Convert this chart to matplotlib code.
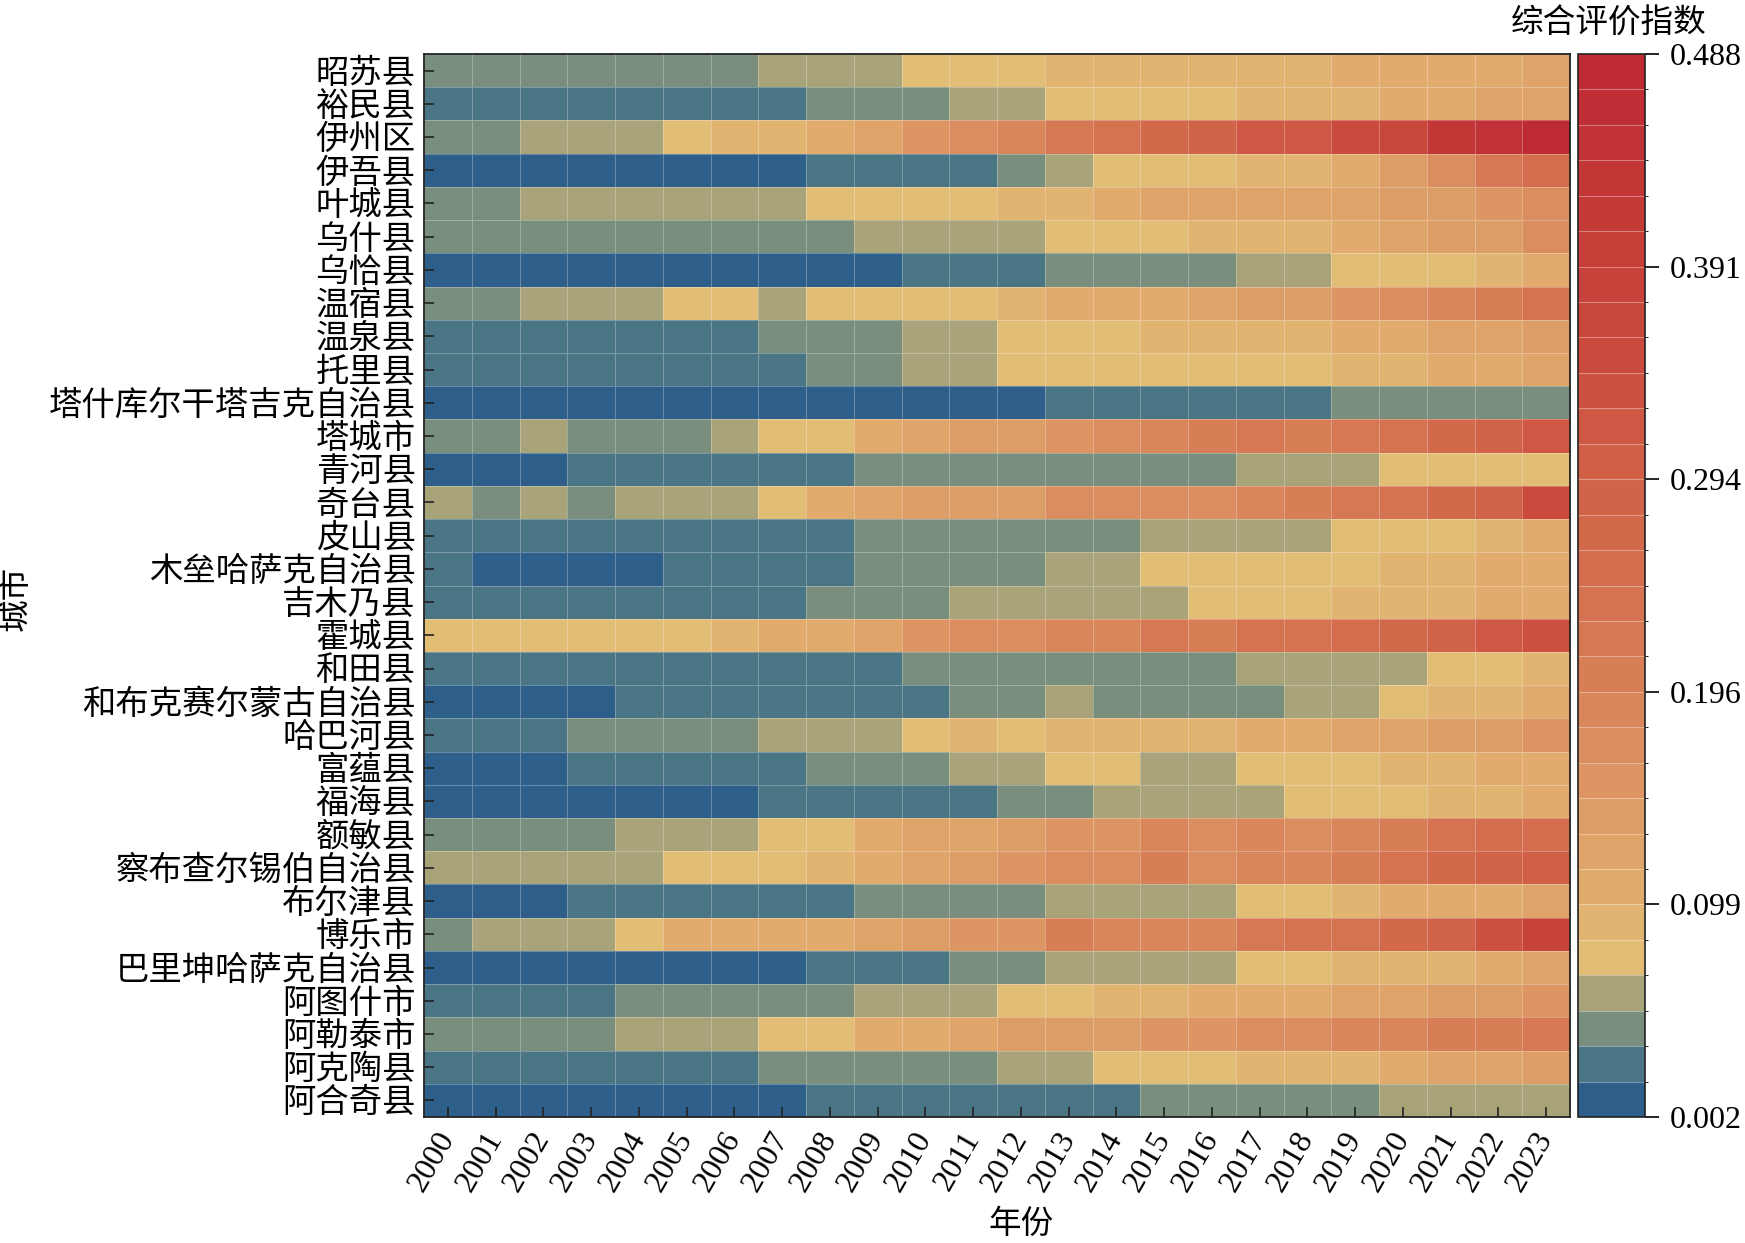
import numpy as np
import matplotlib
matplotlib.use('Agg')
import matplotlib.pyplot as plt
from matplotlib.colors import ListedColormap, BoundaryNorm, LinearSegmentedColormap

plt.rcParams['font.family'] = ['Liberation Serif', 'Noto Sans CJK SC']
plt.rcParams['axes.unicode_minus'] = False

years = [str(y) for y in range(2000, 2024)]

counties = ['昭苏县', '裕民县', '伊州区', '伊吾县', '叶城县', '乌什县', '乌恰县', '温宿县',
            '温泉县', '托里县', '塔什库尔干塔吉克自治县', '塔城市', '青河县', '奇台县',
            '皮山县', '木垒哈萨克自治县', '吉木乃县', '霍城县', '和田县',
            '和布克赛尔蒙古自治县', '哈巴河县', '富蕴县', '福海县', '额敏县',
            '察布查尔锡伯自治县', '布尔津县', '博乐市', '巴里坤哈萨克自治县',
            '阿图什市', '阿勒泰市', '阿克陶县', '阿合奇县']

# composite index, one row per county, 2000..2023
index_values = [
    [0.043, 0.043, 0.043, 0.043, 0.043, 0.043, 0.043, 0.059, 0.059, 0.059, 0.075, 0.075, 0.075, 0.091, 0.091, 0.091, 0.091, 0.091, 0.091, 0.107, 0.107, 0.107, 0.107, 0.124],
    [0.026, 0.026, 0.026, 0.026, 0.026, 0.026, 0.026, 0.026, 0.043, 0.043, 0.043, 0.059, 0.059, 0.075, 0.075, 0.075, 0.075, 0.091, 0.091, 0.091, 0.107, 0.107, 0.124, 0.124],
    [0.043, 0.043, 0.059, 0.059, 0.059, 0.075, 0.091, 0.091, 0.107, 0.124, 0.156, 0.172, 0.188, 0.221, 0.237, 0.269, 0.286, 0.318, 0.318, 0.350, 0.367, 0.431, 0.448, 0.487],
    [0.010, 0.010, 0.010, 0.010, 0.010, 0.010, 0.010, 0.010, 0.026, 0.026, 0.026, 0.026, 0.043, 0.059, 0.075, 0.075, 0.075, 0.091, 0.091, 0.107, 0.140, 0.172, 0.221, 0.253],
    [0.043, 0.043, 0.059, 0.059, 0.059, 0.059, 0.059, 0.059, 0.075, 0.075, 0.075, 0.075, 0.091, 0.091, 0.107, 0.124, 0.124, 0.124, 0.124, 0.124, 0.140, 0.140, 0.156, 0.172],
    [0.043, 0.043, 0.043, 0.043, 0.043, 0.043, 0.043, 0.043, 0.043, 0.059, 0.059, 0.059, 0.059, 0.075, 0.075, 0.075, 0.091, 0.091, 0.091, 0.107, 0.124, 0.140, 0.140, 0.172],
    [0.010, 0.010, 0.010, 0.010, 0.010, 0.010, 0.010, 0.010, 0.010, 0.010, 0.026, 0.026, 0.026, 0.043, 0.043, 0.043, 0.043, 0.059, 0.059, 0.075, 0.075, 0.075, 0.091, 0.107],
    [0.043, 0.043, 0.059, 0.059, 0.059, 0.075, 0.075, 0.059, 0.075, 0.075, 0.075, 0.075, 0.091, 0.107, 0.107, 0.107, 0.124, 0.140, 0.140, 0.156, 0.172, 0.188, 0.205, 0.237],
    [0.026, 0.026, 0.026, 0.026, 0.026, 0.026, 0.026, 0.043, 0.043, 0.043, 0.059, 0.059, 0.075, 0.075, 0.075, 0.091, 0.091, 0.091, 0.091, 0.107, 0.107, 0.124, 0.124, 0.140],
    [0.026, 0.026, 0.026, 0.026, 0.026, 0.026, 0.026, 0.026, 0.043, 0.043, 0.059, 0.059, 0.075, 0.075, 0.075, 0.075, 0.075, 0.075, 0.075, 0.091, 0.091, 0.107, 0.107, 0.124],
    [0.010, 0.010, 0.010, 0.010, 0.010, 0.010, 0.010, 0.010, 0.010, 0.010, 0.010, 0.010, 0.010, 0.026, 0.026, 0.026, 0.026, 0.026, 0.026, 0.043, 0.043, 0.043, 0.043, 0.043],
    [0.043, 0.043, 0.059, 0.043, 0.043, 0.043, 0.059, 0.075, 0.075, 0.107, 0.124, 0.140, 0.140, 0.156, 0.172, 0.188, 0.205, 0.221, 0.205, 0.221, 0.237, 0.269, 0.286, 0.318],
    [0.010, 0.010, 0.010, 0.026, 0.026, 0.026, 0.026, 0.026, 0.026, 0.043, 0.043, 0.043, 0.043, 0.043, 0.043, 0.043, 0.043, 0.059, 0.059, 0.059, 0.075, 0.075, 0.075, 0.075],
    [0.059, 0.043, 0.059, 0.043, 0.059, 0.059, 0.059, 0.075, 0.107, 0.124, 0.140, 0.140, 0.140, 0.172, 0.172, 0.172, 0.172, 0.188, 0.205, 0.221, 0.237, 0.269, 0.286, 0.350],
    [0.026, 0.026, 0.026, 0.026, 0.026, 0.026, 0.026, 0.026, 0.026, 0.043, 0.043, 0.043, 0.043, 0.043, 0.043, 0.059, 0.059, 0.059, 0.059, 0.075, 0.075, 0.075, 0.091, 0.107],
    [0.026, 0.010, 0.010, 0.010, 0.010, 0.026, 0.026, 0.026, 0.026, 0.043, 0.043, 0.043, 0.043, 0.059, 0.059, 0.075, 0.075, 0.075, 0.075, 0.075, 0.091, 0.091, 0.107, 0.107],
    [0.026, 0.026, 0.026, 0.026, 0.026, 0.026, 0.026, 0.026, 0.043, 0.043, 0.043, 0.059, 0.059, 0.059, 0.059, 0.059, 0.075, 0.075, 0.075, 0.091, 0.091, 0.091, 0.107, 0.107],
    [0.075, 0.075, 0.075, 0.075, 0.075, 0.075, 0.091, 0.107, 0.107, 0.124, 0.156, 0.172, 0.172, 0.188, 0.188, 0.221, 0.205, 0.237, 0.237, 0.253, 0.269, 0.286, 0.318, 0.334],
    [0.026, 0.026, 0.026, 0.026, 0.026, 0.026, 0.026, 0.026, 0.026, 0.026, 0.043, 0.043, 0.043, 0.043, 0.043, 0.043, 0.043, 0.059, 0.059, 0.059, 0.059, 0.075, 0.075, 0.091],
    [0.010, 0.010, 0.010, 0.010, 0.026, 0.026, 0.026, 0.026, 0.026, 0.026, 0.026, 0.043, 0.043, 0.059, 0.043, 0.043, 0.043, 0.043, 0.059, 0.059, 0.075, 0.091, 0.091, 0.107],
    [0.026, 0.026, 0.026, 0.043, 0.043, 0.043, 0.043, 0.059, 0.059, 0.059, 0.075, 0.091, 0.075, 0.091, 0.091, 0.091, 0.091, 0.107, 0.107, 0.124, 0.124, 0.140, 0.140, 0.156],
    [0.010, 0.010, 0.010, 0.026, 0.026, 0.026, 0.026, 0.026, 0.043, 0.043, 0.043, 0.059, 0.059, 0.075, 0.075, 0.059, 0.059, 0.075, 0.075, 0.075, 0.091, 0.091, 0.107, 0.107],
    [0.010, 0.010, 0.010, 0.010, 0.010, 0.010, 0.010, 0.026, 0.026, 0.026, 0.026, 0.026, 0.043, 0.043, 0.059, 0.059, 0.059, 0.059, 0.075, 0.075, 0.075, 0.091, 0.091, 0.107],
    [0.043, 0.043, 0.043, 0.043, 0.059, 0.059, 0.059, 0.075, 0.075, 0.107, 0.124, 0.124, 0.140, 0.156, 0.156, 0.188, 0.172, 0.188, 0.172, 0.188, 0.205, 0.237, 0.253, 0.253],
    [0.059, 0.059, 0.059, 0.059, 0.059, 0.075, 0.075, 0.075, 0.091, 0.107, 0.124, 0.140, 0.156, 0.172, 0.172, 0.205, 0.172, 0.188, 0.188, 0.205, 0.237, 0.269, 0.286, 0.302],
    [0.010, 0.010, 0.010, 0.026, 0.026, 0.026, 0.026, 0.026, 0.026, 0.043, 0.043, 0.043, 0.043, 0.059, 0.059, 0.059, 0.059, 0.075, 0.075, 0.091, 0.107, 0.107, 0.107, 0.124],
    [0.043, 0.059, 0.059, 0.059, 0.075, 0.107, 0.107, 0.107, 0.107, 0.124, 0.140, 0.156, 0.156, 0.205, 0.188, 0.188, 0.188, 0.221, 0.237, 0.237, 0.269, 0.286, 0.334, 0.383],
    [0.010, 0.010, 0.010, 0.010, 0.010, 0.010, 0.010, 0.010, 0.026, 0.026, 0.026, 0.043, 0.043, 0.059, 0.059, 0.059, 0.059, 0.075, 0.075, 0.091, 0.091, 0.091, 0.107, 0.124],
    [0.026, 0.026, 0.026, 0.026, 0.043, 0.043, 0.043, 0.043, 0.043, 0.059, 0.059, 0.059, 0.075, 0.075, 0.091, 0.091, 0.107, 0.107, 0.107, 0.124, 0.124, 0.140, 0.140, 0.156],
    [0.043, 0.043, 0.043, 0.043, 0.059, 0.059, 0.059, 0.075, 0.075, 0.107, 0.107, 0.124, 0.140, 0.140, 0.140, 0.156, 0.156, 0.172, 0.172, 0.188, 0.188, 0.205, 0.205, 0.221],
    [0.026, 0.026, 0.026, 0.026, 0.026, 0.026, 0.026, 0.043, 0.043, 0.043, 0.043, 0.043, 0.059, 0.059, 0.075, 0.075, 0.075, 0.091, 0.091, 0.091, 0.107, 0.124, 0.124, 0.140],
    [0.010, 0.010, 0.010, 0.010, 0.010, 0.010, 0.010, 0.010, 0.026, 0.026, 0.026, 0.026, 0.026, 0.026, 0.026, 0.043, 0.043, 0.043, 0.043, 0.043, 0.059, 0.059, 0.059, 0.059],
]

vmin, vmax = 0.002, 0.488
n_levels = 30

# colour scale: four cool steps, then yellow -> orange -> red
cool = ['#2e5f8b', '#4a7585', '#7a8e7e', '#a9a37a']
warm_anchor_lv = [4, 6, 9, 12, 15, 18, 21, 24, 29]
warm_anchor_col = ['#e2bd76', '#e0ab6c', '#dc9563', '#d77e56', '#d46d4d',
                   '#d05f46', '#ca4a3d', '#c63e38', '#be2a34']
warm = LinearSegmentedColormap.from_list(
    'warm', [((lv - 4) / 25, c) for lv, c in zip(warm_anchor_lv, warm_anchor_col)])
colors = cool + [warm(i / 25) for i in range(26)]
cmap = ListedColormap(colors)
bounds = np.linspace(vmin, vmax, n_levels + 1)
norm = BoundaryNorm(bounds, cmap.N, clip=True)

data = np.array(index_values)

W, H = 1745, 1243
fig = plt.figure(figsize=(W / 100, H / 100), dpi=100)
ax = fig.add_axes([424 / W, 1 - 1117 / H, 1146 / W, 1063 / H])
cax = fig.add_axes([1578 / W, 1 - 1117 / H, 67 / W, 1063 / H])

mesh = ax.pcolormesh(np.arange(len(years) + 1), np.arange(len(counties) + 1), data,
                     cmap=cmap, norm=norm, edgecolors=(1, 1, 1, 0.28), linewidth=0.6)
ax.set_xlim(0, len(years))
ax.set_ylim(len(counties), 0)

ax.set_xticks(np.arange(len(years)) + 0.5)
ax.set_xticklabels(years, rotation=60, ha='right', va='center',
                   rotation_mode='anchor', fontsize=23)
ax.set_yticks(np.arange(len(counties)) + 0.5)
ax.set_yticklabels(counties, fontsize=24, fontweight='light')
ax.tick_params(axis='both', direction='in', length=7, width=1.2, color='#222222')
ax.tick_params(axis='x', pad=12)
ax.tick_params(axis='y', pad=6)
for s in ax.spines.values():
    s.set_linewidth(1.3)
    s.set_color('#222222')

ticks = np.linspace(vmin, vmax, 6)
cb = fig.colorbar(mesh, cax=cax, ticks=ticks, drawedges=True)
cb.ax.set_yticklabels([f'{t:.3f}' for t in ticks], fontsize=23)
cb.dividers.set_color((1, 1, 1, 0.35))
cb.dividers.set_linewidth(0.8)
cb.outline.set_linewidth(1.2)
cb.outline.set_edgecolor('#222222')
cb.ax.tick_params(direction='out', length=10, width=1.2, pad=8)

fig.text(1609 / W, 1 - 24 / H, '综合评价指数', ha='center', va='center',
         fontsize=23.5, fontweight='light')
fig.text(1021 / W, 1 - 1225 / H, '年份', ha='center', va='center',
         fontsize=23.5, fontweight='light')
fig.text(16 / W, 1 - 598 / H, '城市', rotation=90, ha='center', va='center',
         fontsize=23.5, fontweight='light')

fig.savefig('out.png', dpi=100)
plt.close(fig)
